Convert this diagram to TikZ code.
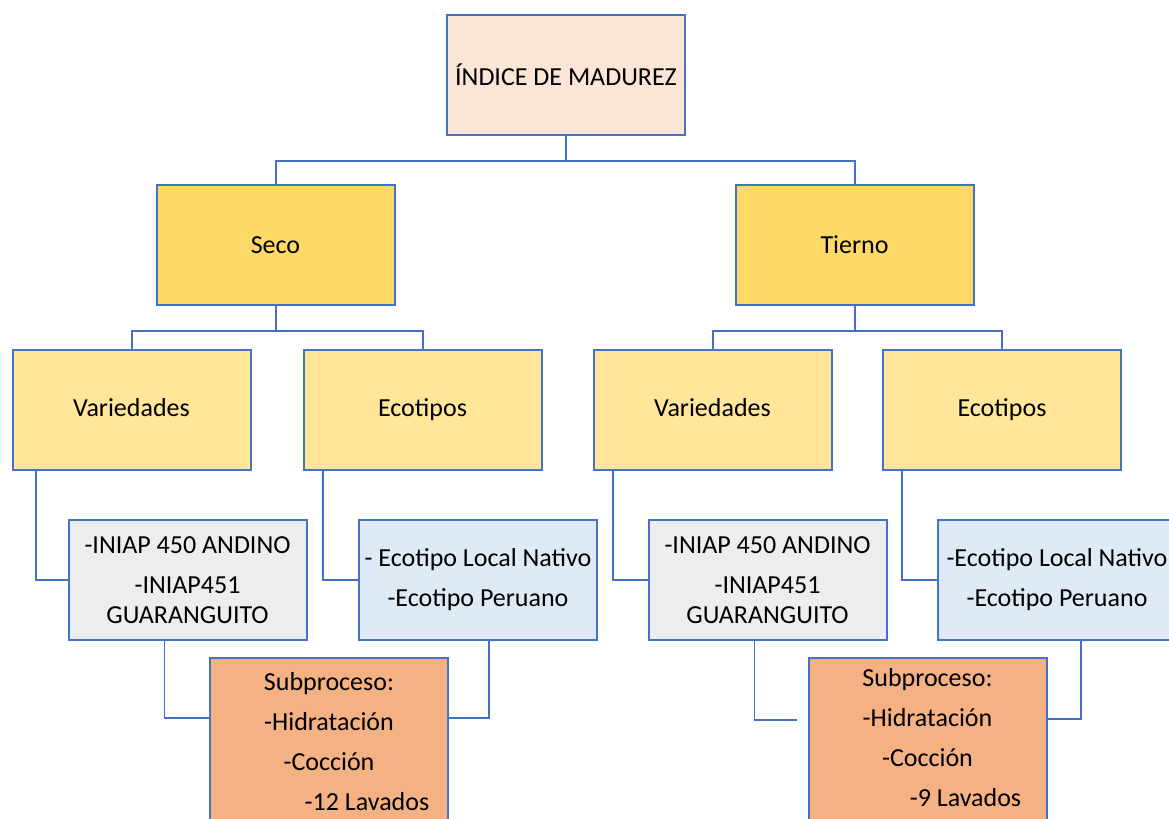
\documentclass[tikz,border=0pt]{standalone}
\usepackage{fontspec}
\setmainfont{Carlito}
\usetikzlibrary{calc}
\definecolor{borde}{HTML}{4472C4}
\definecolor{durazno}{HTML}{FBE5D6}
\definecolor{oro}{HTML}{FFD966}
\definecolor{crema}{HTML}{FFE699}
\definecolor{gris}{HTML}{EDEDED}
\definecolor{celeste}{HTML}{DEEBF7}
\definecolor{naranja}{HTML}{F4B183}
\begin{document}
\begin{tikzpicture}[x=0.5pt,y=-0.5pt]
	\tikzset{
	  caja/.style={draw=borde,line width=1pt,minimum width=119pt,minimum height=60pt,
		inner sep=2pt,align=center,font=\fontsize{13}{15}\selectfont},
	  texto/.style={inner sep=0pt,align=center,font=\fontsize{13}{15}\selectfont},
	  enlace/.style={draw=borde,line width=1pt},
	  fino/.style={draw=borde,line width=0.6pt}
	}
	\clip (0,0) rectangle (1169,819);
	%TOP
	\node[caja,fill=durazno] (top) at (566,75) {ÍNDICE DE MADUREZ};
	%LEVEL 2
	\node[caja,fill=oro] (seco) at (275.5,245) {Seco};
	\node[caja,fill=oro] (tierno) at (854.5,245) {Tierno};
	%LEVEL 3
	\node[caja,fill=crema] (varL) at (131.5,410) {Variedades\strut};
	\node[caja,fill=crema] (ecoL) at (422.5,410) {Ecotipos\strut};
	\node[caja,fill=crema] (varR) at (712.5,410) {Variedades\strut};
	\node[caja,fill=crema] (ecoR) at (1002,410) {Ecotipos\strut};
	%LEVEL 4
	\node[caja,fill=gris] (griL) at (187.5,580) {-INIAP 450 ANDINO\\[5pt]-INIAP451\\GUARANGUITO};
	\node[caja,fill=gris] (griR) at (767.5,580) {-INIAP 450 ANDINO\\[5pt]-INIAP451\\GUARANGUITO};
	\node[caja,fill=celeste] (bluL) at (478,580) {};
	\begin{scope}
	  \clip (bluL.south west) rectangle (bluL.north east);
	  \node[texto] (bluLtxt) at (bluL.center) {- Ecotipo Local Nativo\\[5pt]-Ecotipo Peruano};
	\end{scope}
	\node[caja,fill=celeste] (bluR) at (1057,580) {-Ecotipo Local Nativo\\[5pt]-Ecotipo Peruano};
	%LEVEL 5
	\node[caja,fill=naranja,minimum height=84pt] (subL) at (329,742)
	  {Subproceso:\\[5pt]-Hidratación\\[5pt]-Cocción\\[5pt]\hspace*{38pt}-12 Lavados};
	\node[caja,fill=naranja,minimum height=84pt] (subR) at (927.5,742) {};
	\node[texto] (subRtxt) at ($(subR.center)+(0,-4)$)
	  {Subproceso:\\[5pt]-Hidratación\\[5pt]-Cocción\\[5pt]\hspace*{38pt}-9 Lavados};
	%CONNECTORS
	\foreach \a/\b in {top/seco,top/tierno,seco/varL,seco/ecoL,tierno/varR,tierno/ecoR}{
	  \draw[enlace] (\a.south) -- ++(0,25) -| (\b.north);
	}
	\foreach \a/\b/\d in {varL/griL/24,ecoL/bluL/20,varR/griR/20,ecoR/bluR/20}{
	  \draw[enlace] ($(\a.south west)+(\d,0)$) |- (\b.west);
	}
	\draw[fino] ($(griL.south west)+(97,0)$) |- ($(subL.west)+(0,-24)$);
	\draw[fino] ($(subL.east)+(0,-24)$) -| ($(bluL.south west)+(131,0)$);
	\draw[fino] ($(griR.south west)+(107,0)$) |- ($(subR.west)+(-11,-22)$);
	\draw[fino] ($(subR.east)+(0,-23)$) -| ($(bluR.south west)+(144,0)$);
\end{tikzpicture}
\end{document}
